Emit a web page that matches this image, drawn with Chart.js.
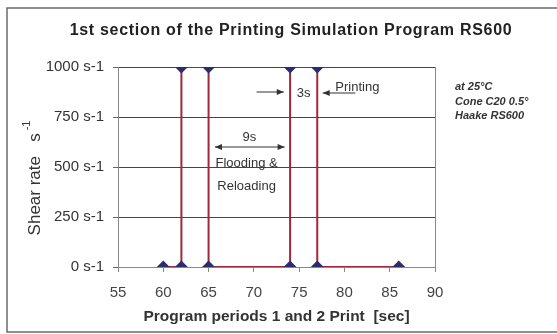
<!DOCTYPE html>
<html>
<head>
<meta charset="utf-8">
<script src="https://cdn.jsdelivr.net/npm/chart.js@4"></script>
<style>
  html, body { margin: 0; padding: 0; background: #fff; }
  #wrap { width: 557px; height: 334px; }
</style>
</head>
<body>
<div id="wrap"><canvas id="rs600Chart" width="557" height="334"></canvas></div>
<script>
// program time [s] and shear rate [1/s] of the two print periods
const seconds = [60, 62, 62, 65, 65, 74, 74, 77, 77, 86];
const shearRates = [0, 0, 1000, 1000, 0, 0, 1000, 1000, 0, 0];
const rateTicks = [0, 250, 500, 750, 1000];
const timeTicks = [55, 60, 65, 70, 75, 80, 85, 90];
const notes = ['at 25°C', 'Cone C20 0.5°', 'Haake RS600'];

const FONT = 'Liberation Sans, Arial, sans-serif';

const arrow = (ctx, x1, y, x2, heads) => {
  ctx.beginPath();
  ctx.moveTo(x1, y);
  ctx.lineTo(x2, y);
  ctx.stroke();
  const head = (x, dir) => {
    ctx.beginPath();
    ctx.moveTo(x, y);
    ctx.lineTo(x - dir * 7, y - 3);
    ctx.lineTo(x - dir * 7, y + 3);
    ctx.closePath();
    ctx.fill();
  };
  if (heads.includes('end')) head(x2, Math.sign(x2 - x1));
  if (heads.includes('start')) head(x1, Math.sign(x1 - x2));
};

const extras = {
  id: 'extras',
  afterDraw(chart) {
    const { ctx, chartArea, scales: { x, y } } = chart;
    ctx.save();

    // frame round the whole figure
    ctx.strokeStyle = '#6b6b6b';
    ctx.lineWidth = 1.5;
    ctx.beginPath();
    ctx.moveTo(560, 8);
    ctx.lineTo(7, 8);
    ctx.lineTo(7, 332);
    ctx.lineTo(560, 332);
    ctx.stroke();

    // title
    ctx.fillStyle = '#222';
    ctx.font = 'bold 16px ' + FONT;
    ctx.letterSpacing = '0.7px';
    ctx.textAlign = 'center';
    ctx.textBaseline = 'middle';
    ctx.fillText('1st section of the Printing Simulation Program RS600', 291, 31);
    ctx.letterSpacing = '0px';

    // y axis title with raised exponent
    ctx.save();
    ctx.translate(35, 178);
    ctx.rotate(-Math.PI / 2);
    ctx.fillStyle = '#333';
    ctx.textAlign = 'left';
    const main = 'Shear rate   s';
    ctx.font = '11px ' + FONT;
    const supW = ctx.measureText('-1').width;
    ctx.font = '17px ' + FONT;
    const mainW = ctx.measureText(main).width;
    const start = -(mainW + supW + 3) / 2;
    ctx.fillText(main, start, 0);
    ctx.font = '11px ' + FONT;
    ctx.fillText('-1', start + mainW + 3, -8);
    ctx.restore();

    // annotations
    ctx.fillStyle = '#333';
    ctx.strokeStyle = '#333';
    ctx.lineWidth = 1;
    ctx.font = '13px ' + FONT;
    ctx.textAlign = 'center';
    ctx.fillText('3s', x.getPixelForValue(75.5), y.getPixelForValue(870));
    arrow(ctx, x.getPixelForValue(70.3), y.getPixelForValue(875), x.getPixelForValue(73.3), ['end']);
    arrow(ctx, x.getPixelForValue(81.2), y.getPixelForValue(870), x.getPixelForValue(77.6), ['end']);
    ctx.textAlign = 'left';
    ctx.fillText('Printing', x.getPixelForValue(79.0), y.getPixelForValue(900));
    ctx.textAlign = 'center';
    ctx.fillText('9s', x.getPixelForValue(69.5), y.getPixelForValue(650));
    arrow(ctx, x.getPixelForValue(65.7), y.getPixelForValue(600), x.getPixelForValue(73.4), ['start', 'end']);
    ctx.fillText('Flooding &', x.getPixelForValue(69.2), y.getPixelForValue(520));
    ctx.fillText('Reloading', x.getPixelForValue(69.2), y.getPixelForValue(405));

    // measuring conditions
    ctx.textAlign = 'left';
    ctx.font = 'italic bold 11px ' + FONT;
    notes.forEach((line, i) => {
      ctx.fillText(line, chartArea.right + 20, 87 + i * 14.5);
    });

    ctx.restore();
  }
};

new Chart(document.getElementById('rs600Chart'), {
  type: 'line',
  data: {
    datasets: [{
      data: seconds.map((s, i) => ({ x: s, y: shearRates[i] })),
      borderColor: '#a3263d',
      borderWidth: 2,
      pointStyle: 'rectRot',
      pointRadius: 5,
      pointBackgroundColor: '#2b2d6c',
      pointBorderColor: '#2b2d6c',
      tension: 0
    }]
  },
  options: {
    responsive: false,
    animation: false,
    layout: { padding: { top: 67, right: 122, bottom: 0, left: 0 } },
    plugins: {
      legend: { display: false },
      tooltip: { enabled: false }
    },
    scales: {
      x: {
        type: 'linear',
        min: 55,
        max: 90,
        afterBuildTicks: (axis) => { axis.ticks = timeTicks.map(v => ({ value: v })); },
        afterFit: (axis) => { axis.height = 67; },
        border: { color: '#888', width: 1 },
        grid: {
          color: (c) => (c.tick && c.tick.value === 90 ? '#888' : 'rgba(0,0,0,0)'),
          tickColor: '#888',
          tickLength: 5
        },
        ticks: { color: '#444', font: { family: FONT, size: 15 }, padding: 12 },
        title: {
          display: true,
          text: 'Program periods 1 and 2 Print  [sec]',
          color: '#333',
          font: { family: FONT, size: 15.5, weight: 'bold' },
          padding: { top: 4, bottom: 8 }
        }
      },
      y: {
        min: 0,
        max: 1000,
        afterBuildTicks: (axis) => { axis.ticks = rateTicks.map(v => ({ value: v })); },
        afterFit: (axis) => { axis.width = 118; },
        border: { color: '#888', width: 1 },
        grid: { color: '#444', tickColor: '#666', tickLength: 5 },
        ticks: {
          color: '#333',
          font: { family: FONT, size: 15 },
          padding: 9,
          callback: (v) => v + ' s-1'
        }
      }
    }
  },
  plugins: [extras]
});
</script>
</body>
</html>
